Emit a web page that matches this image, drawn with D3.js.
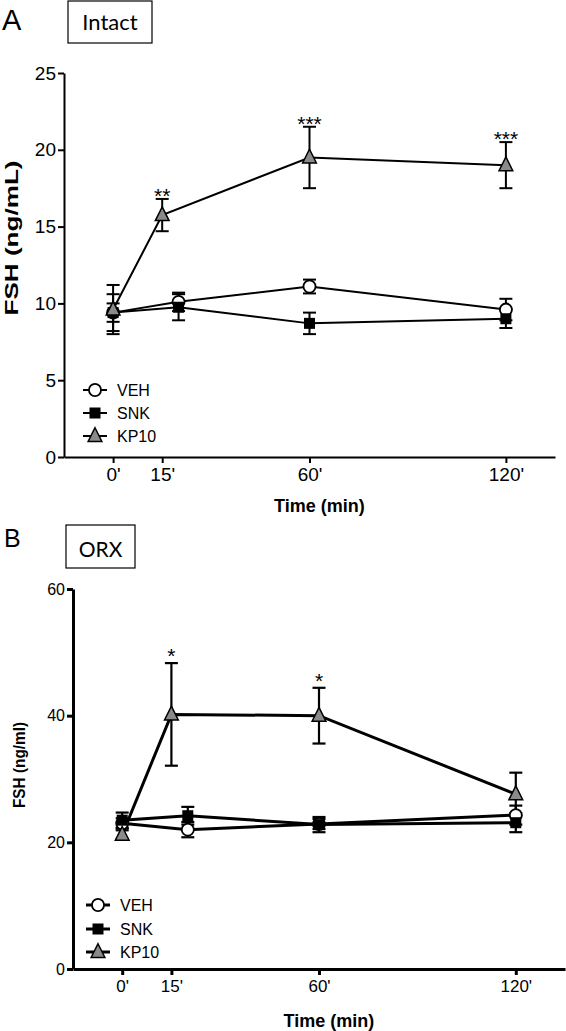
<!DOCTYPE html>
<html><head><meta charset="utf-8">
<script src="https://cdnjs.cloudflare.com/ajax/libs/d3/7.8.5/d3.min.js"></script>
<style>body{margin:0;background:#fff}svg{display:block}</style>
</head><body>
<svg id="c" width="566" height="1031"></svg>
<script>
// ---- data ----
const timesKP = [0, 15, 60, 120];
const timesCtl = [0, 20, 60, 120];
const xTickVals = [0, 15, 60, 120];
const xTickLabels = ["0'", "15'", "60'", "120'"];
const seriesNames = ["VEH", "SNK", "KP10"];

// Panel A (Intact)
const vehA = [9.4, 10.1, 11.1, 9.6];
const vehAErr = [0.6, 0.6, 0.45, 0.7];
const snkA = [9.4, 9.75, 8.7, 9.0];
const snkAErr = [1.2, 0.85, 0.7, 0.6];
const kpA = [9.6, 15.75, 19.5, 19.0];
const kpAErr = [1.6, 1.05, 2.0, 1.5];
const starsA = ["", "**", "***", "***"];
const yTicksA = [0, 5, 10, 15, 20, 25];

// Panel B (ORX)
const vehB = [23.0, 22.0, 22.9, 24.3];
const vehBErr = [0.8, 1.2, 0.8, 1.5];
const snkB = [23.5, 24.2, 22.8, 23.1];
const snkBErr = [1.2, 1.4, 1.2, 1.5];
const kpB = [21.2, 40.2, 40.0, 27.6];
const kpBErr = [0.7, 8.1, 4.4, 3.4];
const starsB = ["", "*", "*", ""];
const yTicksB = [0, 20, 40, 60];

const svg = d3.select("#c");
const F = "'Liberation Sans', Arial, sans-serif";

function panel(o) {
  const g = svg.append("g");
  const x = d3.scaleLinear().domain([-15, 135]).range(o.xr);
  const y = d3.scaleLinear().domain(o.yd).range(o.yr);

  // axes
  const ya = g.append("g").attr("transform", `translate(${o.xr[0]},0)`)
    .call(d3.axisLeft(y).tickValues(o.yTicks).tickSize(o.tick).tickPadding(2).tickSizeOuter(0));
  const xa = g.append("g").attr("transform", `translate(0,${o.yr[0]})`)
    .call(d3.axisBottom(x).tickValues(xTickVals).tickFormat((d, i) => xTickLabels[i]).tickSize(o.tick).tickPadding(o.xpad).tickSizeOuter(0));
  [ya, xa].forEach(a => {
    a.select(".domain").attr("stroke", "#000").attr("stroke-width", o.aw);
    a.selectAll(".tick line").attr("stroke", "#000").attr("stroke-width", o.aw);
    a.selectAll("text").attr("fill", "#000").style("font-family", F);
  });
  ya.selectAll("text").style("font-size", o.yfs + "px");
  xa.selectAll("text").style("font-size", o.xfs + "px");

  // titles
  g.append("text").attr("x", o.xr[0] + (o.xr[1] - o.xr[0]) * 0.52).attr("y", o.xtY)
    .attr("text-anchor", "middle").style("font-family", F).style("font-weight", "bold")
    .style("font-size", o.tfs + "px").text("Time (min)");
  g.append("text").attr("transform", `translate(${o.ytX},${o.ytY}) rotate(-90)`)
    .attr("text-anchor", "middle").style("font-family", F).style("font-weight", "bold")
    .style("font-size", o.ytfs + "px")
    .attr("textLength", o.ytLen).attr("lengthAdjust", "spacingAndGlyphs").text(o.ytitle);

  g.append("text").attr("x", o.letterX).attr("y", o.letterY).style("font-family", F)
    .style("font-size", o.letterFs + "px").text(o.letter);
  g.append("rect").attr("x", o.box[0]).attr("y", o.box[1]).attr("width", o.box[2]).attr("height", o.box[3])
    .attr("fill", "none").attr("stroke", "#000").attr("stroke-width", 1.2);
  g.append("text").attr("x", o.box[0] + o.box[2] / 2).attr("y", o.boxTY).attr("text-anchor", "middle")
    .style("font-family", "Lato, 'Open Sans', sans-serif").style("font-size", o.boxFs + "px").text(o.boxText);

  const series = [
    {name: "VEH", t: timesCtl, v: o.veh, e: o.vehErr, shape: "circle"},
    {name: "SNK", t: timesCtl, v: o.snk, e: o.snkErr, shape: "square"},
    {name: "KP10", t: timesKP, v: o.kp, e: o.kpErr, shape: "triangle"}
  ];
  const line = d3.line().x(d => x(d[0])).y(d => y(d[1]));
  // lines
  series.forEach(s => {
    g.append("path").datum(s.t.map((t, i) => [t, s.v[i]])).attr("d", line)
      .attr("fill", "none").attr("stroke", "#000").attr("stroke-width", o.lw);
  });
  // error bars + markers
  const capW = o.cap;
  series.forEach(s => {
    s.t.forEach((t, i) => {
      const cx = x(t), top = y(s.v[i] + s.e[i]), bot = y(s.v[i] - s.e[i]);
      g.append("line").attr("x1", cx).attr("x2", cx).attr("y1", top).attr("y2", bot)
        .attr("stroke", "#000").attr("stroke-width", o.ew);
      [top, bot].forEach(yy => g.append("line").attr("x1", cx - capW / 2).attr("x2", cx + capW / 2)
        .attr("y1", yy).attr("y2", yy).attr("stroke", "#000").attr("stroke-width", o.ew));
    });
  });
  function marker(sel, shape, cx, cy) {
    if (shape === "circle") {
      sel.append("circle").attr("cx", cx).attr("cy", cy).attr("r", o.ms * 0.55)
        .attr("fill", "#fff").attr("stroke", "#000").attr("stroke-width", 1.8);
    } else if (shape === "square") {
      const s = o.ms;
      sel.append("rect").attr("x", cx - s / 2).attr("y", cy - s / 2).attr("width", s).attr("height", s)
        .attr("fill", "#000");
    } else {
      const s = o.ms * 1.25;
      sel.append("path").attr("d", `M${cx},${cy - s * 0.6}L${cx + s / 2},${cy + s * 0.4}L${cx - s / 2},${cy + s * 0.4}Z`)
        .attr("fill", "#8a8a8a").attr("stroke", "#000").attr("stroke-width", 1.5);
    }
  }
  series.forEach(s => s.t.forEach((t, i) => marker(g, s.shape, x(t), y(s.v[i]))));

  // significance stars
  o.stars.forEach((st, i) => {
    if (!st) return;
    g.append("text").attr("x", x(timesKP[i])).attr("y", y(o.kp[i] + o.kpErr[i]) + o.starOff)
      .attr("text-anchor", "middle").style("font-family", F).style("font-size", o.starFs + "px").text(st);
  });

  // legend
  series.forEach((s, i) => {
    const ly = o.legY[i];
    g.append("line").attr("x1", o.legX - 12).attr("x2", o.legX + 12).attr("y1", ly).attr("y2", ly)
      .attr("stroke", "#000").attr("stroke-width", o.lw);
    marker(g, s.shape, o.legX, ly);
    g.append("text").attr("x", o.legX + 22).attr("y", ly + 6).style("font-family", F)
      .style("font-size", o.legFs + "px").text(seriesNames[i]);
  });
}

panel({
  xr: [64, 555], yd: [0, 25], yr: [457, 73], yTicks: yTicksA, tick: 6, xpad: 5, aw: 2,
  yfs: 19, xfs: 19, tfs: 18, xtY: 512, ytX: 18, ytY: 238, ytfs: 18, ytLen: 155, ytitle: "FSH (ng/mL)",
  letter: "A", letterX: 2, letterY: 30, letterFs: 29,
  box: [68, 1, 84, 42], boxTY: 30, boxText: "Intact", boxFs: 22,
  veh: vehA, vehErr: vehAErr, snk: snkA, snkErr: snkAErr, kp: kpA, kpErr: kpAErr,
  lw: 2, ew: 2, cap: 13, ms: 11, stars: starsA, starOff: 4, starFs: 21,
  legX: 95, legY: [390, 413, 436], legFs: 16
});

panel({
  xr: [73, 565], yd: [0, 60], yr: [969, 589], yTicks: yTicksB, tick: 6, xpad: 5, aw: 3,
  yfs: 16, xfs: 17, tfs: 18, xtY: 1027, ytX: 25, ytY: 765, ytfs: 16, ytLen: 86, ytitle: "FSH (ng/ml)",
  letter: "B", letterX: 4, letterY: 547, letterFs: 25,
  box: [66, 525, 69, 43], boxTY: 557, boxText: "ORX", boxFs: 21,
  veh: vehB, vehErr: vehBErr, snk: snkB, snkErr: snkBErr, kp: kpB, kpErr: kpBErr,
  lw: 3, ew: 2.2, cap: 13, ms: 11, stars: starsB, starOff: 0, starFs: 21,
  legX: 98, legY: [905, 929, 952], legFs: 16
});
</script>
</body></html>
